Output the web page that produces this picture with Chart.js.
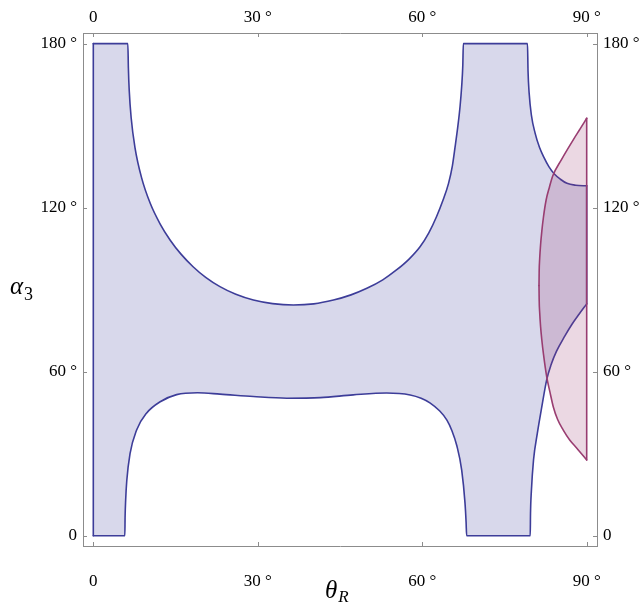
<!DOCTYPE html>
<html>
<head>
<meta charset="utf-8">
<script src="https://cdn.jsdelivr.net/npm/chart.js@4"></script>
<style>
  html, body { margin: 0; padding: 0; background: #fff; }
  #wrap { width: 639px; height: 605px; }
</style>
</head>
<body>
<div id="wrap"><canvas id="chart-region"></canvas></div>
<script>
// tick values (degrees)
const xTicks = [0, 30, 60, 90];
const yTicks = [0, 60, 120, 180];

// blue region: between lower and upper boundary, plus straight edges
const blueLower = [
    [0, 0], [5.75, 0], [5.8, 7], [5.9, 13], [6.1, 20], [6.7, 30], [7.9, 38.7],
    [9.7, 44.8], [12.2, 49], [15.2, 51.6], [19, 52.3], [23.1, 51.8], [29.2, 50.9],
    [35.3, 50.3], [41.4, 50.5], [47.4, 51.5], [53.5, 52.2], [57.8, 51.5],
    [59.8, 50.3], [61.4, 48.6], [63.2, 45.6], [64.5, 42.3], [65.4, 38.5], [66.3, 33],
    [67.2, 24], [67.8, 12], [68.0, 5], [68.1, 0], [79.7, 0], [79.75, 8], [79.9, 16],
    [80.3, 27.7], [81.0, 37.5], [81.8, 47], [82.7, 57], [83.5, 62.5], [84.5, 67.5],
    [86, 73], [87.2, 77], [88.6, 81], [90, 84.8]
];
const blueUpper = [
    [0, 180], [6.3, 180], [6.4, 171], [6.55, 163], [6.9, 153], [7.6, 142],
    [8.8, 131], [10.4, 121.5], [12.2, 114], [14, 108.2], [16, 103], [18.2, 98.4],
    [20.5, 94.5], [23.1, 91.1], [26, 88.3], [29.2, 86.2], [32.7, 84.9], [36.5, 84.4],
    [40.2, 84.8], [43.8, 86.2], [47, 88.1], [49.9, 90.5], [52.8, 93.6], [55.3, 97.2],
    [57.6, 101.2], [59.6, 105.7], [61.2, 110.8], [62.6, 116.7], [63.8, 122.8],
    [64.8, 128.9], [65.5, 135.3], [66, 142.3], [66.5, 149.8], [66.9, 157],
    [67.2, 164.5], [67.4, 172], [67.5, 180], [79.2, 180], [79.3, 170], [79.5, 162],
    [79.9, 154], [80.6, 147.2], [81.4, 142], [82.2, 138.4], [83.1, 135], [84.1, 132.3],
    [85.2, 130.4], [86.4, 128.9], [88, 128.2], [90, 128]
];
const blueLeftEdge = [[0, 0], [0, 180]];
const blueRightEdge = [[90, 84.8], [90, 128]];

// pink region on the right
const pinkUpper = [
    [81.3, 91.5], [81.33, 96.5], [81.43, 101.5], [81.59, 106.5], [81.82, 111.5],
    [82.11, 116.5], [82.6, 122.8], [83.2, 127.5], [83.8, 131.6], [85.4, 137.6],
    [87.6, 145], [88.8, 148.8], [90, 152.7]
];
const pinkLower = [
    [81.3, 91.5], [81.33, 86.5], [81.43, 81.5], [81.59, 76.5], [81.82, 71.5],
    [82.11, 66.5], [82.7, 58.2], [83.3, 52.5], [83.9, 47.2], [84.7, 42.5],
    [85.7, 38.7], [86.9, 35], [88.2, 32], [90, 27.7]
];
const pinkEdge = [[90, 27.7], [90, 152.7]];

const xTitle = ['θ', 'R'];
const yTitle = ['α', '3'];

const blueLine = 'rgb(61,61,153)';
const blueFill = 'rgba(61,61,153,0.2)';
const pinkLine = 'rgb(153,61,113)';
const pinkFill = 'rgba(153,61,113,0.2)';
const frameColor = '#8c8c8c';
const serif = '"Liberation Serif", "Times New Roman", serif';

const toPoints = arr => arr.map(p => ({x: p[0], y: p[1]}));

function curve(points, color, fill, bg) {
    return {
        data: toPoints(points),
        borderColor: color,
        borderWidth: 1.6,
        backgroundColor: bg || 'transparent',
        fill: fill,
        pointRadius: 0,
        cubicInterpolationMode: 'monotone',
        borderCapStyle: 'round',
        borderJoinStyle: 'round'
    };
}

const degLabel = v => v === 0 ? '0' : v + ' °';

function fixTicks(values) {
    return scale => { scale.ticks = values.map(v => ({value: v})); };
}

function axis(position, min, max, values, size, padding) {
    const horizontal = position === 'top' || position === 'bottom';
    return {
        type: 'linear',
        position: position,
        min: min,
        max: max,
        afterBuildTicks: fixTicks(values),
        afterFit: scale => {
            if (horizontal) scale.height = size; else scale.width = size;
        },
        grid: {display: false, drawTicks: false, tickLength: 0},
        border: {display: true, color: frameColor, width: 1},
        ticks: {
            padding: padding,
            color: '#000',
            font: {family: serif, size: 17},
            callback: degLabel,
            maxRotation: 0
        }
    };
}

// small inward tick marks on all four sides + axis titles with subscripts
const frameExtras = {
    id: 'frameExtras',
    afterDraw(chart) {
        const {ctx, chartArea: a, scales} = chart;
        const len = 4;
        ctx.save();
        ctx.strokeStyle = frameColor;
        ctx.lineWidth = 1;
        ctx.beginPath();
        xTicks.forEach(v => {
            const px = Math.round(scales.x.getPixelForValue(v)) + 0.5;
            ctx.moveTo(px, a.bottom); ctx.lineTo(px, a.bottom - len);
            ctx.moveTo(px, a.top); ctx.lineTo(px, a.top + len);
        });
        yTicks.forEach(v => {
            const py = Math.round(scales.y.getPixelForValue(v)) + 0.5;
            ctx.moveTo(a.left, py); ctx.lineTo(a.left + len, py);
            ctx.moveTo(a.right, py); ctx.lineTo(a.right - len, py);
        });
        ctx.stroke();

        ctx.fillStyle = '#000';
        ctx.textBaseline = 'alphabetic';
        ctx.textAlign = 'left';

        // y title
        const yMid = (a.top + a.bottom) / 2;
        ctx.font = 'italic 25px ' + serif;
        ctx.fillText(yTitle[0], 10, yMid + 4);
        const aw = ctx.measureText(yTitle[0]).width;
        ctx.font = '18px ' + serif;
        ctx.fillText(yTitle[1], 10 + aw + 1, yMid + 10);

        // x title
        const xMid = (a.left + a.right) / 2;
        ctx.font = 'italic 25px ' + serif;
        const tw = ctx.measureText(xTitle[0]).width;
        ctx.fillText(xTitle[0], xMid - 15, 598);
        ctx.font = 'italic 17px ' + serif;
        ctx.fillText(xTitle[1], xMid - 15 + tw + 1, 601.5);
        ctx.restore();
    }
};

new Chart(document.getElementById('chart-region'), {
    type: 'line',
    data: {
        datasets: [
            curve(pinkLower, pinkLine, false),
            curve(pinkUpper, pinkLine, '-1', pinkFill),
            curve(pinkEdge, pinkLine, false),
            curve(blueLower, blueLine, false),
            curve(blueUpper, blueLine, '-1', blueFill),
            curve(blueLeftEdge, blueLine, false),
            curve(blueRightEdge, blueLine, false)
        ]
    },
    options: {
        responsive: true,
        maintainAspectRatio: false,
        animation: false,
        layout: {padding: 0},
        plugins: {
            legend: {display: false},
            tooltip: {enabled: false}
        },
        scales: {
            x: axis('bottom', -1.88, 91.88, xTicks, 59, 25),
            x2: axis('top', -1.88, 91.88, xTicks, 33, 5),
            y: axis('left', -3.77, 183.9, yTicks, 83, 6),
            y2: axis('right', -3.77, 183.9, yTicks, 42, 6)
        }
    },
    plugins: [frameExtras]
});
</script>
</body>
</html>
